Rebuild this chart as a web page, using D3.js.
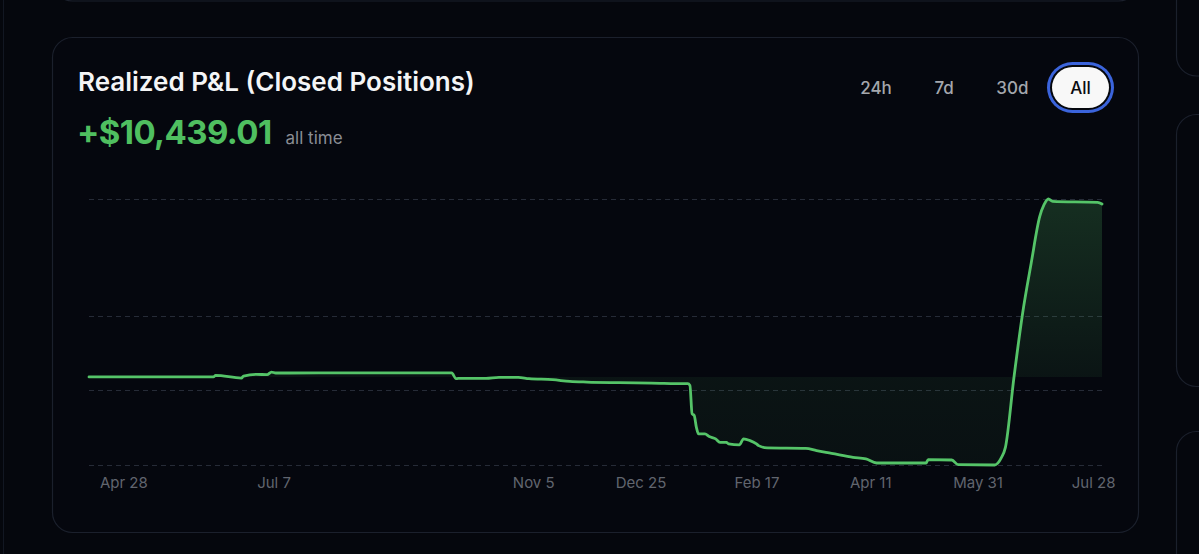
<!DOCTYPE html>
<html>
<head>
<meta charset="utf-8">
<script src="https://cdn.jsdelivr.net/npm/d3@7"></script>
<style>
  html, body { margin: 0; padding: 0; background: #05070d; overflow: hidden; }
  svg { display: block; font-family: Inter, "Noto Sans", sans-serif; }
</style>
</head>
<body>
<svg id="chart" width="1199" height="554"></svg>
<script>
// ---- data ----
const dates = [
  "2024-04-12","2024-06-09","2024-06-10","2024-06-22","2024-06-23","2024-06-29","2024-07-04","2024-07-06","2024-07-08",
  "2024-08-15","2024-09-28","2024-09-30","2024-10-01","2024-10-14","2024-10-20","2024-10-29","2024-11-03","2024-11-14",
  "2024-11-22","2024-11-30","2024-12-15","2024-12-30","2025-01-15","2025-01-16","2025-01-17","2025-01-18","2025-01-19",
  "2025-01-20","2025-01-21","2025-01-24","2025-01-26","2025-01-29","2025-01-31","2025-02-03","2025-02-04","2025-02-09",
  "2025-02-11","2025-02-14","2025-02-17","2025-02-18","2025-02-22","2025-03-12","2025-03-17","2025-03-24","2025-04-03",
  "2025-04-09","2025-04-14","2025-05-07","2025-05-08","2025-05-19","2025-05-22","2025-06-08","2025-06-11","2025-06-13",
  "2025-06-17","2025-06-21","2025-06-25","2025-06-29","2025-07-01","2025-07-03","2025-07-05","2025-07-26","2025-07-28"
];
const values = [
  0, 0, 97, -67, 55, 158, 139, 297, 240,
  245, 250, -103, -85, -85, -24, -24, -103, -164,
  -267, -309, -345, -370, -406, -406, -509, -2223, -2326,
  -3035, -3435, -3435, -3598, -3738, -3944, -3944, -4041, -4101,
  -3738, -3841, -4041, -4144, -4283, -4307, -4447, -4610, -4852,
  -4949, -5192, -5192, -4992, -5010, -5295, -5313, -4900, -4250,
  0, 3835, 6864, 9687, 10396, 10741, 10596, 10535, 10439.01
];
const tickDates = ["2024-04-28","2024-07-07","2024-11-05","2024-12-25","2025-02-17","2025-04-11","2025-05-31","2025-07-28"];
const gridValues = [10741, 3680, -786, -5313];
const ranges = ["24h", "7d", "30d", "All"];
const title = "Realized P&L (Closed Positions)";
const totalLabel = "+$10,439.01";
const totalSub = "all time";

// ---- drawing ----
(function () {
const parse = d3.utcParse("%Y-%m-%d");
const fmt = d3.utcFormat("%b %-d");
const data = dates.map((d, i) => ({ date: parse(d), value: values[i] }));

const svg = d3.select("#chart");
const W = 1199, H = 554;
const bg = "#05070d", border = "#1b202c", green = "#55c468";

svg.append("rect").attr("width", W).attr("height", H).attr("fill", bg);

// surrounding cards (page context)
svg.append("line").attr("x1", 3.5).attr("x2", 3.5).attr("y1", 0).attr("y2", H)
  .attr("stroke", "#121722").attr("stroke-width", 1);
const ctx = [
  { x: 52.5, y: -60, w: 1086, h: 61 },
  { x: 1176.5, y: -60, w: 80, h: 136 },
  { x: 1176.5, y: 114.5, w: 80, h: 272 },
  { x: 1176.5, y: 431.5, w: 80, h: 200 }
];
svg.selectAll("rect.ctx").data(ctx).join("rect").attr("class", "ctx")
  .attr("x", d => d.x).attr("y", d => d.y).attr("width", d => d.w).attr("height", d => d.h)
  .attr("rx", 20).attr("fill", "none").attr("stroke", border).attr("stroke-width", 1.2);

// main card
svg.append("rect").attr("x", 52.5).attr("y", 37.5).attr("width", 1086).attr("height", 495)
  .attr("rx", 20).attr("fill", "#05070e").attr("stroke", border).attr("stroke-width", 1.2);

// header
svg.append("text").attr("x", 78).attr("y", 91).text(title)
  .attr("fill", "#f4f5f6").attr("font-size", 26).attr("font-weight", 600);
const tot = svg.append("text").attr("x", 77).attr("y", 144).text(totalLabel)
  .attr("fill", "#4fbf60").attr("font-size", 33).attr("font-weight", 700).attr("letter-spacing", -0.6);
const totW = tot.node().getComputedTextLength();
svg.append("text").attr("x", 77 + totW + 14).attr("y", 144).text(totalSub)
  .attr("fill", "#8a8d94").attr("font-size", 17);

// range buttons
const btnX = d3.scalePoint().domain(ranges).range([876, 1080.5]);
ranges.forEach(r => {
  const cx = btnX(r);
  if (r === "All") {
    svg.append("rect").attr("x", cx - 33.5).attr("y", 62).attr("width", 67).attr("height", 51)
      .attr("rx", 25.5).attr("fill", "#3b64dc");
    svg.append("rect").attr("x", cx - 30.5).attr("y", 65).attr("width", 61).attr("height", 45)
      .attr("rx", 22.5).attr("fill", "#05070d");
    svg.append("rect").attr("x", cx - 28.5).attr("y", 67).attr("width", 57).attr("height", 41)
      .attr("rx", 20.5).attr("fill", "#f8f8f8");
  }
  svg.append("text").attr("x", cx).attr("y", 94).attr("text-anchor", "middle").text(r)
    .attr("fill", r === "All" ? "#0b0c10" : "#a4a7ad").attr("font-size", 17)
    .attr("font-weight", 500);
});

// chart scales
const pLeft = 89, pRight = 1102, pTop = 199, pBottom = 465;
const x = d3.scaleUtc().domain(d3.extent(data, d => d.date)).range([pLeft, pRight]);
const y = d3.scaleLinear().domain(d3.extent(values)).range([pBottom, pTop]);

// grid
svg.append("g").selectAll("line").data(gridValues).join("line")
  .attr("x1", pLeft).attr("x2", pRight + 1)
  .attr("y1", d => Math.round(y(d)) + 0.5).attr("y2", d => Math.round(y(d)) + 0.5)
  .attr("stroke", "#262b37").attr("stroke-width", 1).attr("stroke-dasharray", "5 4");

// gradient for area
const defs = svg.append("defs");
const grad = defs.append("linearGradient").attr("id", "fillGrad")
  .attr("gradientUnits", "userSpaceOnUse").attr("x1", 0).attr("x2", 0)
  .attr("y1", pTop).attr("y2", pBottom);
grad.append("stop").attr("offset", 0).attr("stop-color", green).attr("stop-opacity", 0.21);
grad.append("stop").attr("offset", 0.67).attr("stop-color", green).attr("stop-opacity", 0.07);
grad.append("stop").attr("offset", 1).attr("stop-color", green).attr("stop-opacity", 0.05);

const curve = d3.curveMonotoneX;
const area = d3.area().x(d => x(d.date)).y0(y(0)).y1(d => y(d.value)).curve(curve);
const line = d3.line().x(d => x(d.date)).y(d => y(d.value)).curve(curve);

svg.append("path").datum(data).attr("d", area).attr("fill", "url(#fillGrad)");
svg.append("path").datum(data).attr("d", line).attr("fill", "none")
  .attr("stroke", green).attr("stroke-width", 2.8).attr("stroke-linejoin", "round").attr("stroke-linecap", "round");

// x axis labels
const axis = d3.axisBottom(x).tickValues(tickDates.map(parse)).tickFormat(fmt).tickSize(0).tickPadding(0);
const gx = svg.append("g").attr("transform", `translate(0,${pBottom})`).call(axis);
gx.select(".domain").remove();
gx.selectAll("text").attr("fill", "#61656e").attr("font-size", 15)
  .attr("font-family", "Inter, 'Noto Sans', sans-serif").attr("dy", 0).attr("y", 23);
// keep the last label inside the card area
gx.selectAll("text").each(function (d) {
  const t = d3.select(this);
  const w = this.getComputedTextLength();
  const tx = x(d);
  if (tx + w / 2 > pRight + 13) {
    t.attr("text-anchor", "end").attr("x", pRight + 13 - tx);
  }
});
})();
</script>
</body>
</html>
